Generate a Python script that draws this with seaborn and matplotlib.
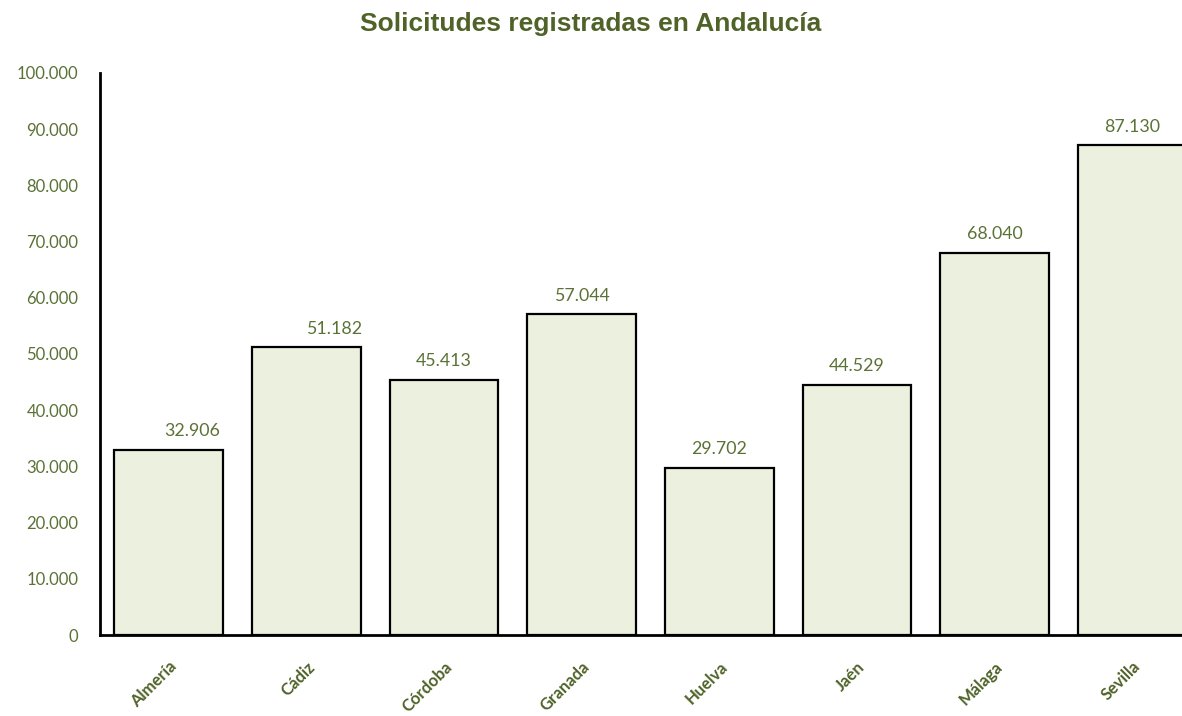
import matplotlib
matplotlib.use("Agg")
import matplotlib.pyplot as plt
import seaborn as sns
import pandas as pd
from matplotlib.ticker import FuncFormatter

provincias = ["Almería", "Cádiz", "Córdoba", "Granada", "Huelva", "Jaén", "Málaga", "Sevilla"]
solicitudes = [32906, 51182, 45413, 57044, 29702, 44529, 68040, 87130]
yticks = [0, 10000, 20000, 30000, 40000, 50000, 60000, 70000, 80000, 90000, 100000]

sns.set_theme(style="white")
plt.rcParams["font.family"] = ["Lato", "DejaVu Sans"]

GREEN = "#4F6228"
TXT = "#5B7236"

df = pd.DataFrame({"provincia": provincias, "solicitudes": solicitudes})

fig = plt.figure(figsize=(11.82, 7.16), dpi=100)
ax = fig.add_axes([100 / 1182, (716 - 635) / 716, 1101 / 1182, (635 - 73) / 716])

sns.barplot(data=df, x="provincia", y="solicitudes", ax=ax, color="#EBF1DE",
            edgecolor="black", linewidth=1.6, width=0.79, saturation=1)

ax.set_xlim(-0.5, 7.5)
ax.set_ylim(0, 100000)
ax.set_yticks(yticks)
ax.yaxis.set_major_formatter(FuncFormatter(lambda v, p: f"{int(v):,}".replace(",", ".")))
ax.tick_params(axis="y", length=0, pad=15.5, labelsize=12, labelcolor=TXT)
ax.tick_params(axis="x", length=0, pad=17)
ax.set_xlabel("")
ax.set_ylabel("")
for lab in ax.get_xticklabels():
    lab.set_rotation(45)
    lab.set_ha("right")
    lab.set_va("top")
    lab.set_rotation_mode("anchor")
    lab.set_fontweight("bold")
    lab.set_fontsize(12)
    lab.set_color(GREEN)

for s in ["top", "right"]:
    ax.spines[s].set_visible(False)
for s in ["left", "bottom"]:
    ax.spines[s].set_color("black")
    ax.spines[s].set_linewidth(2)

# value labels (first two labels were shifted right in the original)
label_shift = {0: 17, 1: 20}
for i, v in enumerate(solicitudes):
    ax.annotate(f"{v:,}".replace(",", "."), xy=(i, v),
                xytext=(label_shift.get(i, 0), 13.5), textcoords="offset points",
                ha="center", va="center", fontsize=12.8, color=TXT)

fig.text(0.5, 1 - 24 / 716, "Solicitudes registradas en Andalucía",
         ha="center", va="center", fontsize=19, fontweight="bold",
         color=GREEN, family=["Liberation Sans", "DejaVu Sans"])

fig.savefig("out.png", dpi=100)
